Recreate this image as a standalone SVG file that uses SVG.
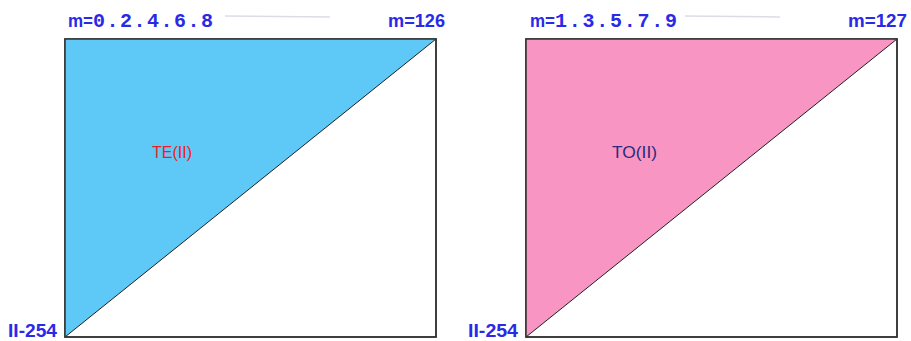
<svg xmlns="http://www.w3.org/2000/svg" width="911" height="341" viewBox="0 0 911 341">
<style>
.frame{fill:#ffffff;stroke:#333333;stroke-width:1.5}
.diag{stroke:#222222;stroke-width:1;fill:none}
.lbl{font-family:"Liberation Sans",Arial,sans-serif;font-weight:bold;font-size:18px;fill:#2a2ae6}
.mono{font-family:"Liberation Mono","Courier New",monospace;font-size:20px}
.in{font-family:"Liberation Sans",Arial,sans-serif;font-size:17px}
.faint{stroke:#dcdce6;stroke-width:1.5}
</style>
<rect width="911" height="341" fill="#ffffff"/>
<g id="panel-even">
<rect class="frame" x="65" y="39" width="371" height="298"/>
<polygon points="65,39 436,39 65,337" fill="#5ec8f6"/>
<line class="diag" x1="65" y1="337" x2="436" y2="39"/>
<rect x="65" y="39" width="371" height="298" fill="none" stroke="#333333" stroke-width="1.5"/>
<text class="lbl" x="68" y="27"><tspan textLength="25" lengthAdjust="spacingAndGlyphs">m=</tspan><tspan class="mono" x="93" textLength="120" lengthAdjust="spacing">0.2.4.6.8</tspan></text>
<text class="lbl" x="388" y="27" textLength="57" lengthAdjust="spacingAndGlyphs">m=126</text>
<text class="lbl" x="8" y="337" textLength="49" lengthAdjust="spacingAndGlyphs">II-254</text>
<text class="in" x="152" y="158" fill="#ee1c24" textLength="40" lengthAdjust="spacingAndGlyphs">TE(II)</text>
<line class="faint" x1="225" y1="16" x2="330" y2="17"/>
</g>
<g id="panel-odd">
<rect class="frame" x="526" y="39" width="371" height="298"/>
<polygon points="526,39 897,39 526,337" fill="#f995c2"/>
<line class="diag" x1="526" y1="337" x2="897" y2="39"/>
<rect x="526" y="39" width="371" height="298" fill="none" stroke="#333333" stroke-width="1.5"/>
<text class="lbl" x="530" y="27"><tspan textLength="25" lengthAdjust="spacingAndGlyphs">m=</tspan><tspan class="mono" x="555" textLength="122" lengthAdjust="spacing">1.3.5.7.9</tspan></text>
<text class="lbl" x="848" y="27" textLength="59" lengthAdjust="spacingAndGlyphs">m=127</text>
<text class="lbl" x="468" y="337" textLength="50" lengthAdjust="spacingAndGlyphs">II-254</text>
<text class="in" x="612" y="158" fill="#2a2a7a" textLength="45" lengthAdjust="spacingAndGlyphs">TO(II)</text>
<line class="faint" x1="685" y1="16" x2="780" y2="17"/>
</g>
</svg>
